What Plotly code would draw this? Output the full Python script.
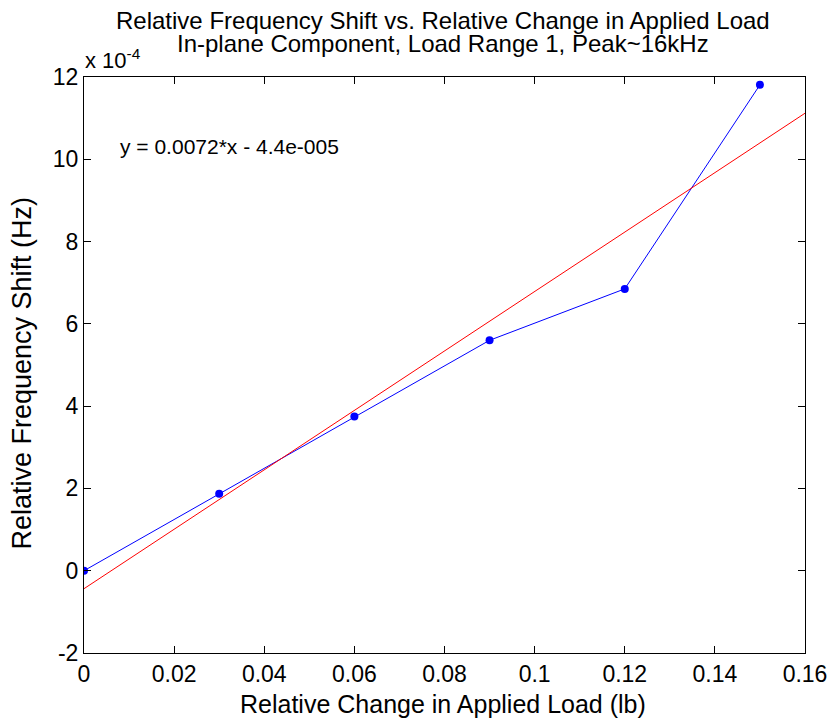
import numpy as np
import plotly.graph_objects as go

load_change = [0.0, 0.03, 0.06, 0.09, 0.12, 0.15]
freq_shift = [0.0, 1.87e-4, 3.75e-4, 5.60e-4, 6.85e-4, 11.81e-4]
fit_x_range = [0.0, 0.16]
y_tick_vals = [-2, 0, 2, 4, 6, 8, 10, 12]
x_tick_vals = [0, 0.02, 0.04, 0.06, 0.08, 0.1, 0.12, 0.14, 0.16]
x_tick_text = ["0", "0.02", "0.04", "0.06", "0.08", "0.1", "0.12", "0.14", "0.16"]

slope, intercept = np.polyfit(load_change, freq_shift, 1)
fit_x = np.array(fit_x_range)
fit_y = slope * fit_x + intercept

FONT = "Liberation Sans, Arial, Helvetica, sans-serif"

fig = go.Figure()
fig.add_trace(go.Scatter(x=load_change, y=freq_shift, mode="lines+markers",
                         line=dict(color="#0000ff", width=1),
                         marker=dict(color="#0000ff", size=8), showlegend=False))
fig.add_trace(go.Scatter(x=fit_x, y=fit_y, mode="lines",
                         line=dict(color="#ff0000", width=1), showlegend=False))

axis_common = dict(showline=True, linecolor="black", linewidth=1, mirror="ticks",
                   ticks="inside", ticklen=7, tickcolor="black", showgrid=False,
                   zeroline=False, tickfont=dict(family=FONT, size=23, color="black"))

fig.update_xaxes(range=[0, 0.16], tickvals=x_tick_vals, ticktext=x_tick_text, **axis_common)
fig.update_yaxes(range=[-2e-4, 12e-4], tickvals=[v * 1e-4 for v in y_tick_vals],
                 ticktext=[str(v) for v in y_tick_vals], **axis_common)

fig.update_layout(
    width=839, height=722,
    margin=dict(l=84, r=28, t=77, b=69),
    paper_bgcolor="white", plot_bgcolor="white",
    font=dict(family=FONT, color="black"),
    annotations=[
        dict(text="Relative Frequency Shift vs. Relative Change in Applied Load",
             xref="paper", yref="paper", x=0.4985, y=1.0982, xanchor="center", yanchor="middle",
             showarrow=False, font=dict(family=FONT, size=24, color="black")),
        dict(text="In-plane Component, Load Range 1, Peak~16kHz",
             xref="paper", yref="paper", x=0.4985, y=1.0582, xanchor="center", yanchor="middle",
             showarrow=False, font=dict(family=FONT, size=24, color="black")),
        dict(text="x 10<sup>-4</sup>", xref="paper", yref="paper", x=-0.002, y=1.031,
             xanchor="left", yanchor="middle", showarrow=False,
             font=dict(family=FONT, size=22, color="black")),
        dict(text="Relative Change in Applied Load (lb)", xref="paper", yref="paper",
             x=0.498, y=-0.0885, xanchor="center", yanchor="middle", showarrow=False,
             font=dict(family=FONT, size=25, color="black")),
        dict(text="Relative Frequency Shift (Hz)", xref="paper", yref="paper",
             x=-0.0853, y=0.486, xanchor="center", yanchor="middle", textangle=-90,
             showarrow=False, font=dict(family=FONT, size=27, color="black")),
        dict(text=f"y = {slope:.2g}*x - 4.4e-005", xref="x", yref="y", x=0.0075, y=10.32e-4,
             xanchor="left", yanchor="middle", showarrow=False,
             font=dict(family=FONT, size=21, color="black")),
    ],
)

fig.write_html("out.html")
